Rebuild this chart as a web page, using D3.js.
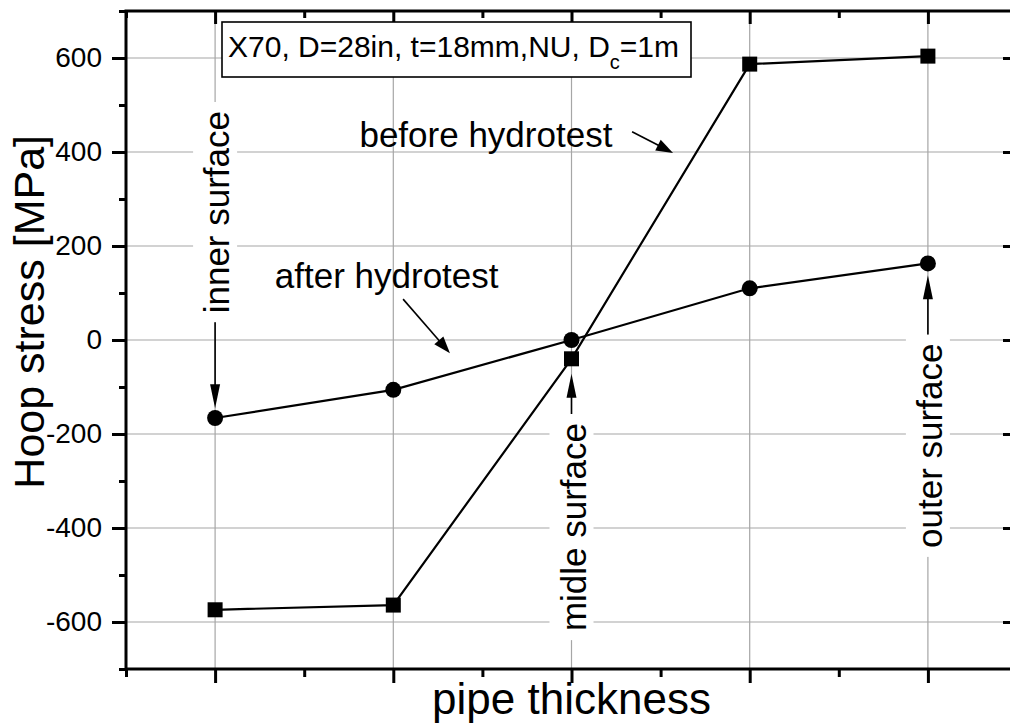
<!DOCTYPE html>
<html>
<head>
<meta charset="utf-8">
<script src="https://cdn.jsdelivr.net/npm/d3@7"></script>
<style>
  html, body { margin: 0; padding: 0; background: #fff; }
  svg { display: block; font-family: "Liberation Sans", Arial, sans-serif; }
</style>
</head>
<body>
<svg id="chart" width="1010" height="727"></svg>
<script>
// ---------------- data ----------------
const categories = [1, 2, 3, 4, 5];              // positions across pipe thickness (no labels)
const afterHydrotest  = [-166, -106, 0, 110, 163];   // circles
const beforeHydrotest = [-574, -564, -40, 587, 604]; // squares
const yMajorTicks = [-600, -400, -200, 0, 200, 400, 600];
const yMinorTicks = [-700, -500, -300, -100, 100, 300, 500, 700];
const xMinorTicks = [0.5, 1.5, 2.5, 3.5, 4.5, 5.5];
const xTitle = "pipe thickness";
const yTitle = "Hoop stress [MPa]";
// vertical callouts: category, label centre value, arrow tip value
const vLabels = [
  { text: "inner surface", cat: 1, mid: 272,  tip: -145, dir: "down" },
  { text: "midle surface", cat: 3, mid: -398, tip: -72,  dir: "up" },
  { text: "outer surface", cat: 5, mid: -225, tip: 138,  dir: "up" }
];
// series callouts (data coordinates)
const sLabels = [
  { text: "before hydrotest", x: 1.81, y: 410, ax0: 3.34, ay0: 443, ax1: 3.57, ay1: 398 },
  { text: "after hydrotest",  x: 1.335, y: 110, ax0: 2.055, ay0: 87, ax1: 2.318, ay1: -28 }
];

// ---------------- scales ----------------
const svg = d3.select("#chart");
const L = 126, R = 1017, T = 11, B = 669;
const x = d3.scaleLinear().domain([0.5, 5.5]).range([L, R]);
const y = d3.scaleLinear().domain([-700, 700]).range([B, T]);

// ---------------- grid ----------------
const grid = svg.append("g").attr("stroke", "#a6a6a6").attr("stroke-width", 1.2);
grid.selectAll("line.v").data(categories).join("line")
  .attr("x1", d => x(d)).attr("x2", d => x(d)).attr("y1", T).attr("y2", B);
grid.selectAll("line.h").data(yMajorTicks).join("line")
  .attr("y1", d => y(d)).attr("y2", d => y(d)).attr("x1", L).attr("x2", R);

// ---------------- axes ----------------
function styleAxis(g) {
  g.select(".domain").remove();
  g.selectAll(".tick line").attr("stroke", "#000").attr("stroke-width", 3);
  g.selectAll(".tick text").attr("fill", "#000");
}
// left major with labels
svg.append("g").attr("transform", `translate(${L},0)`)
  .call(d3.axisLeft(y).tickValues(yMajorTicks).tickSize(14).tickPadding(10).tickFormat(d => String(d)))
  .call(styleAxis)
  .call(g => g.selectAll(".tick text").attr("font-size", 28).attr("font-family", "Liberation Sans, Arial, sans-serif"));
svg.append("g").attr("transform", `translate(${L},0)`)
  .call(d3.axisLeft(y).tickValues(yMinorTicks).tickSize(7).tickFormat(""))
  .call(styleAxis);
// right (inward)
svg.append("g").attr("transform", `translate(${R},0)`)
  .call(d3.axisLeft(y).tickValues(yMajorTicks).tickSize(14).tickFormat(""))
  .call(styleAxis);
svg.append("g").attr("transform", `translate(${R},0)`)
  .call(d3.axisLeft(y).tickValues(yMinorTicks).tickSize(7).tickFormat(""))
  .call(styleAxis);
// bottom (outward)
svg.append("g").attr("transform", `translate(0,${B})`)
  .call(d3.axisBottom(x).tickValues(categories).tickSize(14).tickFormat(""))
  .call(styleAxis);
svg.append("g").attr("transform", `translate(0,${B})`)
  .call(d3.axisBottom(x).tickValues(xMinorTicks).tickSize(8).tickFormat(""))
  .call(styleAxis);
// top (inward)
svg.append("g").attr("transform", `translate(0,${T})`)
  .call(d3.axisBottom(x).tickValues(categories).tickSize(13).tickFormat(""))
  .call(styleAxis);
svg.append("g").attr("transform", `translate(0,${T})`)
  .call(d3.axisBottom(x).tickValues(xMinorTicks).tickSize(7).tickFormat(""))
  .call(styleAxis);

// frame
svg.append("rect").attr("x", L).attr("y", T).attr("width", R - L).attr("height", B - T)
  .attr("fill", "none").attr("stroke", "#000").attr("stroke-width", 3);

// axis titles
svg.append("text").attr("x", x(3)).attr("y", 714)
  .attr("text-anchor", "middle").attr("font-size", 44).text(xTitle);
svg.append("text").attr("transform", `translate(44,${y(60)}) rotate(-90)`)
  .attr("text-anchor", "middle").attr("font-size", 43).text(yTitle);

// ---------------- series ----------------
const line = d3.line().x((d, i) => x(categories[i])).y(d => y(d));
svg.append("path").datum(beforeHydrotest).attr("d", line)
  .attr("fill", "none").attr("stroke", "#000").attr("stroke-width", 2.2);
svg.append("path").datum(afterHydrotest).attr("d", line)
  .attr("fill", "none").attr("stroke", "#000").attr("stroke-width", 2.2);

svg.append("g").selectAll("rect").data(beforeHydrotest).join("rect")
  .attr("x", (d, i) => x(categories[i]) - 7.5).attr("y", d => y(d) - 7.5)
  .attr("width", 15).attr("height", 15).attr("fill", "#000");
svg.append("g").selectAll("circle").data(afterHydrotest).join("circle")
  .attr("cx", (d, i) => x(categories[i])).attr("cy", d => y(d)).attr("r", 8).attr("fill", "#000");

// ---------------- annotations ----------------
function arrow(x0, y0, x1, y1, len, hw, sw) {
  const dx = x1 - x0, dy = y1 - y0, d = Math.hypot(dx, dy);
  const ux = dx / d, uy = dy / d;
  const bx = x1 - ux * len, by = y1 - uy * len;
  svg.append("line").attr("x1", x0).attr("y1", y0).attr("x2", bx + ux * 2).attr("y2", by + uy * 2)
    .attr("stroke", "#000").attr("stroke-width", sw);
  svg.append("polygon")
    .attr("points", [[x1, y1], [bx - uy * hw, by + ux * hw], [bx + uy * hw, by - ux * hw]].map(p => p.join(",")).join(" "))
    .attr("fill", "#000");
}

sLabels.forEach(s => {
  svg.append("text").attr("x", x(s.x)).attr("y", y(s.y)).attr("font-size", 35).text(s.text);
  arrow(x(s.ax0), y(s.ay0), x(s.ax1), y(s.ay1), 17, 6, 1.6);
});

vLabels.forEach(v => {
  const cx = x(v.cat), cy = y(v.mid);
  const g = svg.append("g");
  const bg = g.append("rect").attr("fill", "#fff");
  const t = g.append("text").attr("transform", `translate(${cx + 14},${cy}) rotate(-90)`)
    .attr("text-anchor", "middle").attr("font-size", 35).text(v.text);
  const len = t.node().getComputedTextLength();
  const half = len / 2 + 9;
  bg.attr("x", cx - 22).attr("y", cy - half).attr("width", 44).attr("height", 2 * half);
  const start = v.dir === "down" ? cy + half : cy - half;
  arrow(cx, start, cx, y(v.tip), 24, 5, 1.6);
});

// parameter box
const box = svg.append("g");
box.append("rect").attr("x", 222).attr("y", 22).attr("width", 469).attr("height", 55)
  .attr("fill", "#fff").attr("stroke", "#000").attr("stroke-width", 1.6);
const bt = box.append("text").attr("x", 228).attr("y", 57).attr("font-size", 30);
bt.append("tspan").text("X70, D=28in, t=18mm,NU, D");
bt.append("tspan").attr("font-size", 20).attr("dy", 12).text("c");
bt.append("tspan").attr("dy", -12).text("=1m");
</script>
</body>
</html>
